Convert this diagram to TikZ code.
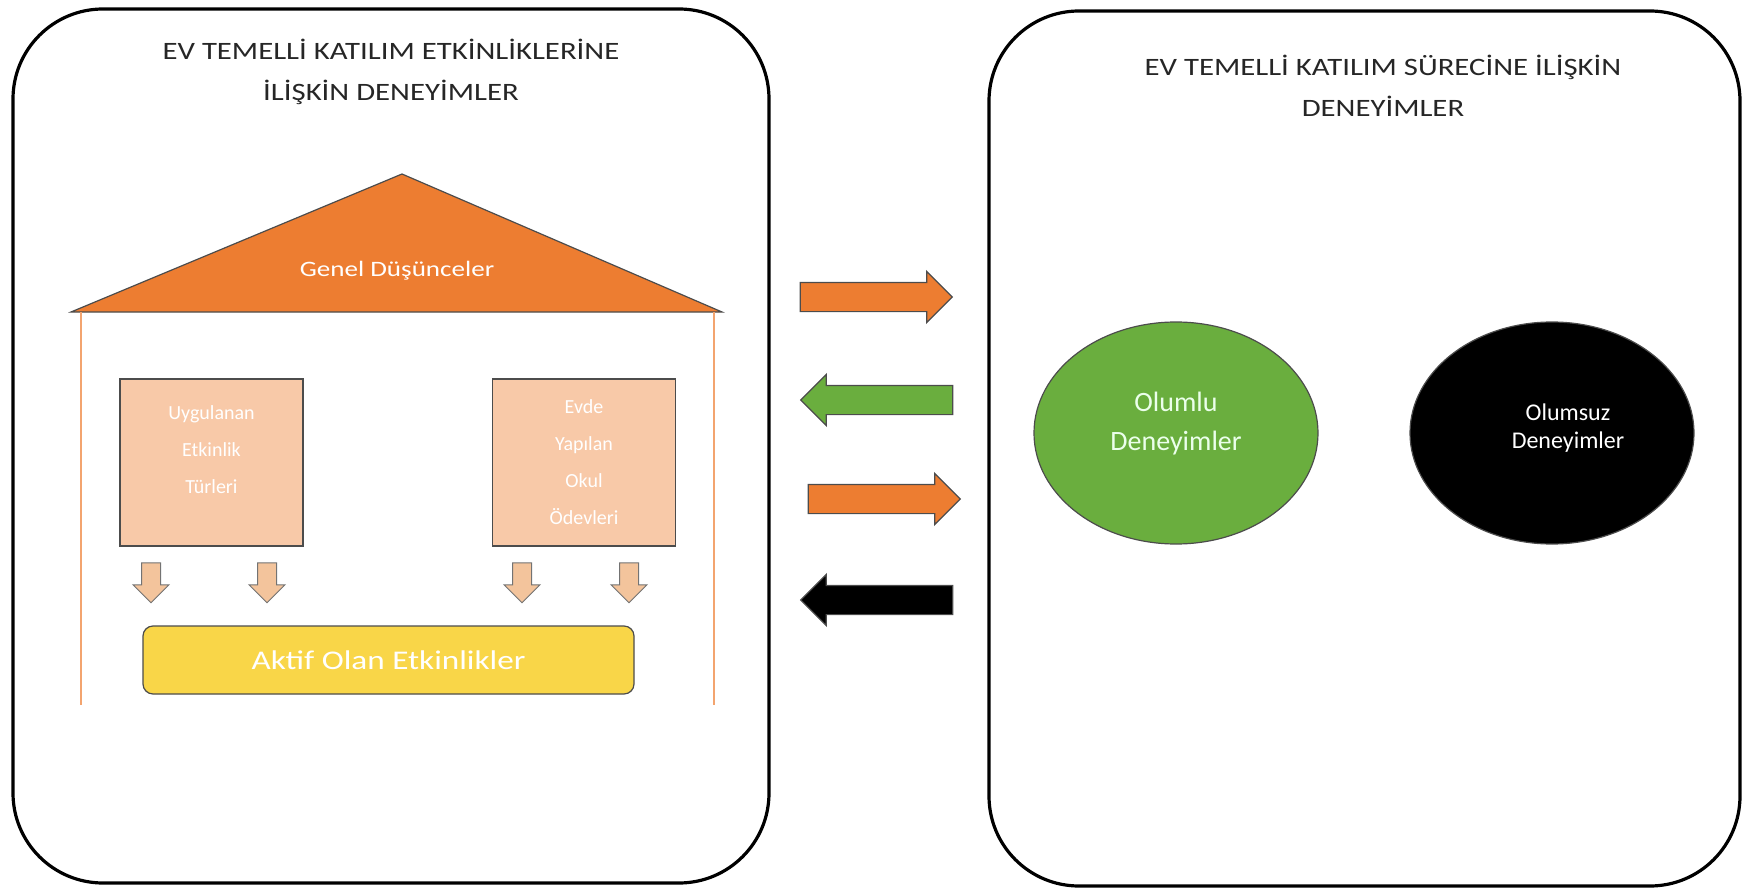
\documentclass[tikz,border=0pt]{standalone}
\usepackage{fontspec}
\setmainfont{Carlito}
\usepackage{xcolor}
\usetikzlibrary{positioning,shapes,shapes.arrows}
\definecolor{roofor}{HTML}{ED7D31}
\definecolor{peach}{HTML}{F8C9A8}
\definecolor{darr}{HTML}{F3C49C}
\definecolor{gold}{HTML}{F9D648}
\definecolor{okgreen}{HTML}{6AAE3E}
\newcommand{\wide}[1]{\scalebox{1.23}[1]{#1}}

\begin{document}
\begin{tikzpicture}[x=0.5pt,y=-0.5pt,
  panel/.style={draw=black,line width=1.6pt,rounded corners=45pt},
  title/.style={align=center,font=\fontsize{12.5}{20.5}\selectfont,text=black!85},
  main box/.style={rectangle,draw=black!70,fill=peach,line width=0.6pt,minimum width=91.5pt,minimum height=83.5pt},
  box text/.style={align=center,text=white,font=\fontsize{10}{18.5}\selectfont},
  small arrow/.style={single arrow,draw=black!55,fill=darr,line width=0.5pt,inner xsep=0pt,inner ysep=4.5pt,minimum height=20pt,single arrow head extend=4.25pt,rotate=-90},
  big arrow/.style={single arrow,draw=black!70,line width=0.6pt,inner xsep=0pt,inner ysep=7pt,minimum height=76pt,single arrow head extend=5.5pt},
  main ell/.style={ellipse,draw=black!70,line width=0.6pt,minimum width=142pt,minimum height=111pt}]
\useasboundingbox (0,0) rectangle (1742,888);
% left panel
\draw[panel] (13,9) rectangle (769,883);
\node[title] (tL) at (391,72) {\wide{EV TEMELLİ KATILIM ETKİNLİKLERİNE}\\\wide{İLİŞKİN DENEYİMLER}};
\draw[draw=black!70,fill=roofor,line width=0.6pt] (71,312) -- (402,174) -- (722,312) -- cycle;
\node[text=white,font=\fontsize{11}{12}\selectfont] (roof) at (397,271) {\wide{Genel Düşünceler}};
\draw[roofor!70,line width=0.6pt] (81,312) -- (81,705);
\draw[roofor!70,line width=0.6pt] (714,312) -- (714,705);
\node[main box] (bL) at (211.5,462.5) {};
\node[box text] (bLt) at (211.5,450) {Uygulanan\\Etkinlik\\Türleri};
\node[main box] (bR) at (584,462.5) {};
\node[box text] (bRt) at (584,462.5) {Evde\\Yapılan\\Okul\\Ödevleri};
\node[small arrow] (d1) at (151,578) {};
\node[small arrow] (d2) at (267,578) {};
\node[small arrow] (d3) at (522,578) {};
\node[small arrow] (d4) at (629,578) {};
\node[draw=black!70,fill=gold,line width=0.6pt,rounded corners=5pt,minimum width=245.5pt,minimum height=34pt,text=white,font=\fontsize{13.5}{16}\selectfont] (bar) at (388.5,660) {\wide{Aktif Olan Etkinlikler}};
% arrows between panels
\node[big arrow,fill=roofor] (a1) at (869,297) {};
\node[big arrow,fill=okgreen,shape border rotate=180] (a2) at (884,400) {};
\node[big arrow,fill=roofor] (a3) at (877,499) {};
\node[big arrow,fill=black,shape border rotate=180] (a4) at (884,600) {};
% right panel
\draw[panel] (989,11) rectangle (1740,886);
\node[title] (tR) at (1383,86) {\wide{EV TEMELLİ KATILIM SÜRECİNE İLİŞKİN}\\\wide{DENEYİMLER}};
\node[main ell,fill=okgreen] (eG) at (1176,433) {};
\node[align=center,text=green!8,font=\fontsize{14}{19.5}\selectfont] (eGt) at (1176,424) {Olumlu\\Deneyimler};
\node[main ell,fill=black] (eB) at (1552,433) {};
\node[align=center,text=white,font=\fontsize{12}{14}\selectfont] (eBt) at (1568,428) {Olumsuz\\Deneyimler};
\end{tikzpicture}
\end{document}
